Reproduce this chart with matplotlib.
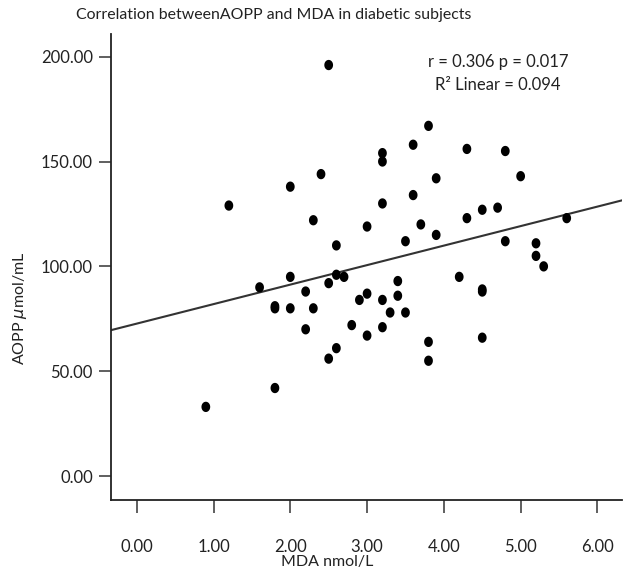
import matplotlib
matplotlib.use('Agg')
import matplotlib.pyplot as plt
import numpy as np

# MDA (x) vs AOPP (y)
mda = [0.9, 1.2, 1.6, 1.8, 1.8, 1.8, 2.0, 2.0, 2.0, 2.2, 2.2, 2.3, 2.3, 2.4,
       2.5, 2.5, 2.5, 2.6, 2.6, 2.6, 2.7, 2.8, 2.9, 3.0, 3.0, 3.0, 3.2, 3.2,
       3.2, 3.2, 3.2, 3.3, 3.4, 3.4, 3.5, 3.5, 3.6, 3.6, 3.7, 3.8, 3.8, 3.8,
       3.9, 3.9, 4.2, 4.3, 4.3, 4.5, 4.5, 4.5, 4.5, 4.7, 4.8, 4.8, 5.0, 5.2,
       5.2, 5.3, 5.6]
aopp = [33, 129, 90, 81, 80, 42, 138, 95, 80, 88, 70, 122, 80, 144,
        196, 92, 56, 110, 96, 61, 95, 72, 84, 119, 87, 67, 154, 150,
        130, 84, 71, 78, 93, 86, 112, 78, 158, 134, 120, 167, 64, 55,
        142, 115, 95, 156, 123, 127, 89, 88, 66, 128, 155, 112, 143, 111,
        105, 100, 123]

# fitted line as drawn in the figure
intercept = 72.7
slope = 9.3

x_ticks = [0, 1, 2, 3, 4, 5, 6]
y_ticks = [0, 50, 100, 150, 200]

plt.rcParams['font.family'] = ['Lato', 'DejaVu Sans']
plt.rcParams['mathtext.fontset'] = 'dejavusans'

fig = plt.figure(figsize=(6.23, 5.70), dpi=100)
ax = fig.add_axes([111 / 623, 1 - 500 / 570, 511 / 623, 466 / 570])

xlim = (-0.335, 6.32)
ylim = (-11.4, 210.8)

# slightly tall dots, like the original
t = np.linspace(0, 2 * np.pi, 40)
dot = np.column_stack([0.85 * np.cos(t), np.sin(t)])

ax.scatter(mda, aopp, s=55, marker=dot, color='black', edgecolors='none', zorder=3)
xl = np.array(xlim)
ax.plot(xl, intercept + slope * xl, color='#333333', linewidth=1.5, zorder=2)

ax.set_xlim(*xlim)
ax.set_ylim(*ylim)
ax.set_xticks(x_ticks)
ax.set_xticklabels([f'{v:.2f}' for v in x_ticks])
ax.set_yticks(y_ticks)
ax.set_yticklabels([f'{v:.2f}' for v in y_ticks])

for side in ['top', 'right']:
    ax.spines[side].set_visible(False)
for side in ['left', 'bottom']:
    ax.spines[side].set_linewidth(1.3)
    ax.spines[side].set_color('#222222')

ax.tick_params(axis='both', direction='out', length=9, width=1.2,
               color='#444444', labelsize=12, labelcolor='#222222')
ax.tick_params(axis='x', pad=19)
ax.tick_params(axis='y', pad=4)

fig.text(327 / 623, 1 - 562 / 570, 'MDA nmol/L', ha='center', va='center',
         fontsize=11.5, color='#222222')
fig.text(20 / 623, 1 - 308 / 570, 'AOPP $\\mu$mol/mL', ha='center', va='center',
         rotation=90, fontsize=11.5, color='#222222')
fig.text(274 / 623, 1 - 15 / 570,
         'Correlation betweenAOPP and MDA in diabetic subjects',
         ha='center', va='center', fontsize=11.4, color='#222222')

fig.text(498 / 623, 1 - 62 / 570, 'r = 0.306 p = 0.017', ha='center', va='center',
         fontsize=12, color='#222222')
fig.text(498 / 623, 1 - 85 / 570, 'R² Linear = 0.094', ha='center', va='center',
         fontsize=12, color='#222222')

fig.savefig('out.png', dpi=100)
